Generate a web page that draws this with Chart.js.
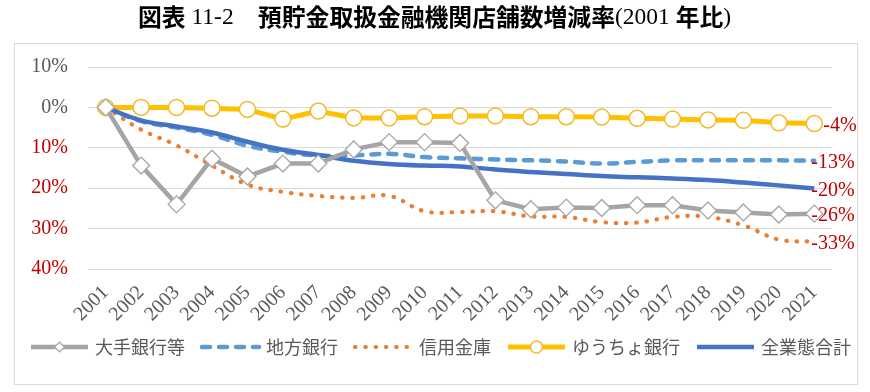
<!DOCTYPE html>
<html><head><meta charset="utf-8">
<script src="https://cdn.jsdelivr.net/npm/chart.js@4/dist/chart.umd.min.js"></script>
<style>html,body{margin:0;padding:0;background:#fff}#wrap{width:870px;height:392px;position:relative}</style>
</head><body><div id="wrap"><canvas id="c" width="870" height="392"></canvas></div>
<script>
const titleParts = [
  ['図表', 'cjk', 138], [' 11-2', 'lat', null],
  ['預貯金取扱金融機関店舗数増減率', 'cjk', 258], ['(2001 ', 'lat', null], ['年比', 'cjk', null], [')', 'lat', null]
];
const years = ['2001','2002','2003','2004','2005','2006','2007','2008','2009','2010','2011','2012','2013','2014','2015','2016','2017','2018','2019','2020','2021'];
const seriesNames = ['大手銀行等','地方銀行','信用金庫','ゆうちょ銀行','全業態合計'];
const largeBanks = [0,-14.4,-24.0,-12.7,-17.1,-13.9,-13.9,-10.4,-8.6,-8.6,-8.8,-23.0,-25.2,-24.8,-24.9,-24.2,-24.2,-25.5,-26.0,-26.5,-26.3];
const regionalBanks = [0,-3.4,-5.0,-6.8,-9.5,-11.0,-11.9,-11.9,-11.5,-12.3,-12.6,-12.9,-13.1,-13.4,-13.9,-13.5,-13.1,-13.1,-13.1,-13.1,-13.2];
const shinkin = [0,-5.5,-9.4,-14.4,-19.1,-20.9,-21.9,-22.4,-21.9,-25.7,-25.9,-25.7,-27.0,-27.1,-28.4,-28.5,-27.1,-27.1,-29.2,-32.7,-33.2];
const yucho = [0,0,0,-0.2,-0.5,-2.9,-0.9,-2.6,-2.6,-2.3,-2.1,-2.1,-2.3,-2.3,-2.4,-2.7,-2.9,-3.1,-3.2,-3.8,-4.0];
const allTotal = [0,-3.2,-4.7,-6.2,-8.5,-10.5,-11.8,-13.2,-14.0,-14.4,-14.6,-15.4,-16.0,-16.5,-17.0,-17.3,-17.6,-18.0,-18.6,-19.3,-20.1];
const endLabels = ['-26%','-13%','-33%','-4%','-20%'];

const RED = '#C00000';
const GRAY_TXT = '#595959';

const frameTitle = {
  id: 'frameTitle',
  beforeDraw(chart) {
    const ctx = chart.ctx;
    ctx.save();
    ctx.fillStyle = '#fff';
    ctx.fillRect(0, 0, chart.width, chart.height);
    ctx.strokeStyle = '#d9d9d9';
    ctx.lineWidth = 1;
    ctx.strokeRect(14.5, 43.5, 843, 341);
    ctx.fillStyle = '#000';
    ctx.textAlign = 'left';
    ctx.textBaseline = 'middle';
    let x = 0;
    titleParts.forEach(([t, kind, x0]) => {
      ctx.font = kind === 'cjk' ? 'bold 23.8px "Noto Sans CJK JP"' : '23.5px "Liberation Serif"';
      if (x0 !== null) x = x0;
      ctx.fillText(t, x, kind === 'cjk' ? 16.5 : 17.5);
      x += ctx.measureText(t).width;
    });
    ctx.restore();
  }
};

const endLabelPlugin = {
  id: 'endLabels',
  afterDatasetsDraw(chart) {
    const ctx = chart.ctx;
    ctx.save();
    ctx.font = '20px "Liberation Serif"';
    ctx.fillStyle = RED;
    ctx.textAlign = 'left';
    ctx.textBaseline = 'middle';
    chart.data.datasets.forEach((ds, i) => {
      const meta = chart.getDatasetMeta(i);
      const p = meta.data[meta.data.length - 1];
      const dx = i === 3 ? 9 : -3;
      ctx.fillText(endLabels[i], p.x + dx, p.y + 2);
    });
    ctx.restore();
  }
};

const legendPlugin = {
  id: 'customLegend',
  afterDraw(chart) {
    const ctx = chart.ctx;
    ctx.save();
    ctx.font = '18px "Noto Sans CJK JP"';
    const y = 347;
    let x = 29;
    const sw = 61;
    chart.data.datasets.forEach((ds) => {
      ctx.save();
      ctx.strokeStyle = ds.borderColor;
      ctx.lineWidth = ds.borderWidth;
      ctx.lineCap = ds.borderCapStyle || 'butt';
      ctx.setLineDash(ds.legendDash || []);
      ctx.beginPath();
      ctx.moveTo(x + 2, y);
      ctx.lineTo(x + sw - 2, y);
      ctx.stroke();
      ctx.setLineDash([]);
      const cx = x + sw / 2;
      if (ds.pointStyle === 'rectRot') {
        ctx.beginPath();
        ctx.moveTo(cx, y - 5); ctx.lineTo(cx + 5, y); ctx.lineTo(cx, y + 5); ctx.lineTo(cx - 5, y); ctx.closePath();
        ctx.fillStyle = '#fff'; ctx.fill();
        ctx.lineWidth = 1.2; ctx.strokeStyle = ds.pointBorderColor; ctx.stroke();
      } else if (ds.pointStyle === 'circle' && ds.pointRadius > 0) {
        ctx.beginPath();
        ctx.arc(cx, y, 6, 0, Math.PI * 2);
        ctx.fillStyle = '#fff'; ctx.fill();
        ctx.lineWidth = 1.5; ctx.strokeStyle = ds.pointBorderColor; ctx.stroke();
      }
      ctx.restore();
      ctx.fillStyle = GRAY_TXT;
      ctx.textAlign = 'left';
      ctx.textBaseline = 'middle';
      ctx.fillText(ds.label, x + sw + 5, y);
      x += sw + 5 + ctx.measureText(ds.label).width + 15;
    });
    ctx.restore();
  }
};

new Chart(document.getElementById('c'), {
  type: 'line',
  data: {
    labels: years,
    datasets: [
      { label: seriesNames[0], data: largeBanks, borderColor: '#A5A5A5', borderWidth: 4.5, tension: 0,
        pointStyle: 'rectRot', pointRadius: 8.5, pointBackgroundColor: '#fff', pointBorderColor: '#A5A5A5', pointBorderWidth: 1.3, order: 0 },
      { label: seriesNames[1], data: regionalBanks, borderColor: '#5B9BD5', borderWidth: 4.5, tension: 0.4,
        borderDash: [8, 9], legendDash: [8, 9], borderCapStyle: 'round', pointRadius: 0, order: 3 },
      { label: seriesNames[2], data: shinkin, borderColor: '#ED7D31', borderWidth: 4.2, tension: 0.4,
        borderDash: [0.5, 9.8], legendDash: [0.5, 9.8], borderCapStyle: 'round', pointRadius: 0, order: 4 },
      { label: seriesNames[3], data: yucho, borderColor: '#FFC000', borderWidth: 5, tension: 0,
        pointStyle: 'circle', pointRadius: 8, pointBackgroundColor: '#fff', pointBorderColor: '#F2BA2B', pointBorderWidth: 1.5, order: 2 },
      { label: seriesNames[4], data: allTotal, borderColor: '#4472C4', borderWidth: 4.5, tension: 0.4,
        pointRadius: 0, order: 1 }
    ]
  },
  options: {
    responsive: false,
    animation: false,
    devicePixelRatio: 1,
    layout: { padding: { top: 67, right: 38, bottom: 60, left: 0 } },
    plugins: { legend: { display: false }, title: { display: false }, tooltip: { enabled: false } },
    elements: { point: { hoverRadius: 8 } },
    scales: {
      x: {
        type: 'category', offset: true,
        grid: { display: false }, border: { display: false },
        ticks: { autoSkip: false, minRotation: 45, maxRotation: 45, padding: 4,
          font: { family: '"Liberation Serif"', size: 20 }, color: GRAY_TXT },
        afterFit(s) { s.height = 392 - 60 - 269; }
      },
      y: {
        min: -40, max: 10,
        grid: { color: '#d9d9d9', lineWidth: 1, drawTicks: false }, border: { display: false },
        ticks: { stepSize: 10, padding: 20,
          font: { family: '"Liberation Serif"', size: 20 },
          color: (c) => (c.tick && c.tick.value < 0 ? RED : GRAY_TXT),
          callback: (v) => Math.abs(v) + '%' },
        afterFit(s) { s.width = 88; }
      }
    }
  },
  plugins: [frameTitle, endLabelPlugin, legendPlugin]
});
</script></body></html>
